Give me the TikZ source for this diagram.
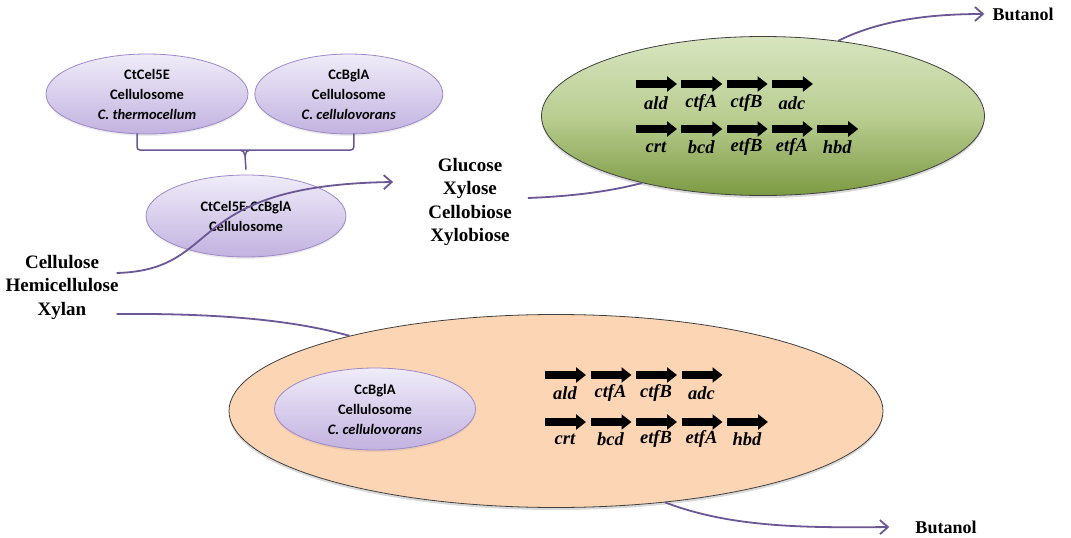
\documentclass[tikz,border=0pt]{standalone}
\usepackage{fontspec}
\setmainfont{Liberation Serif}
\newfontfamily\calfont{Carlito}
\usepackage{tikz}
\usetikzlibrary{shapes.geometric, arrows.meta, positioning, calc, shadows}

\definecolor{lilacTop}{RGB}{240,236,249}
\definecolor{lilacBot}{RGB}{194,178,224}
\definecolor{lilacEdge}{RGB}{158,136,200}
\definecolor{leafTop}{RGB}{216,229,192}
\definecolor{leafMid}{RGB}{186,206,146}
\definecolor{leafBot}{RGB}{124,154,66}
\definecolor{peach}{RGB}{252,213,181}
\definecolor{plum}{RGB}{108,86,148}

\begin{document}
\begin{tikzpicture}[x=1pt, y=-1pt,
    enzyme/.style={ellipse, draw=lilacEdge, thick, top color=lilacTop, bottom color=lilacBot, inner sep=0pt, minimum height=80pt, align=center, drop shadow={opacity=0.15, shadow xshift=0pt, shadow yshift=-2pt}, font=\calfont\bfseries\fontsize{14.5}{20}\selectfont},
    cell/.style={ellipse, draw=black!75, line width=0.8pt, inner sep=0pt, drop shadow={opacity=0.3, shadow xshift=0pt, shadow yshift=-2.5pt}},
    gene/.style={line width=7.5pt, -{Triangle[length=10pt, width=15pt]}},
    genelbl/.style={inner sep=0pt, font=\bfseries\itshape\fontsize{18.5}{20}\selectfont},
    sugar/.style={inner sep=0pt, align=center, font=\bfseries\fontsize{19}{23.5}\selectfont},
    flow/.style={draw=plum, line width=1.8pt},
    flowarr/.style={flow, -{Straight Barb[length=8pt, width=14pt]}},
    brace/.style={draw=plum, line width=1.5pt}
]
    \useasboundingbox (0,0) rectangle (1071,538);

    % cellulosomes
    \node [enzyme, minimum width=202pt] (ctcel) at (147,94) {CtCel5E\\Cellulosome\\\textit{C. thermocellum}};
    \node [enzyme, minimum width=188pt, right=6pt of ctcel] (ccbgl) {CcBglA\\Cellulosome\\\textit{C. cellulovorans}};
    \node [enzyme, minimum width=200pt, minimum height=82pt] (chimera) at (246,216) {CtCel5E-CcBglA\\Cellulosome};

    % bracket joining the two
    \coordinate (mid) at (245,150);
    \draw [brace, rounded corners=3pt] ([xshift=-10pt, yshift=1pt]ctcel.south) |- (mid) -| ([xshift=5pt, yshift=1pt]ccbgl.south);
    \draw [brace] ([xshift=-5pt]mid) to[out=0, in=90] ++(5,6) -- ([yshift=5pt]chimera.north);
    \draw [brace] ([xshift=5pt]mid) to[out=180, in=90] ++(-5,6);

    % host cells
    \node [cell, top color=leafTop, bottom color=leafBot, middle color=leafMid, minimum width=443pt, minimum height=159pt] (green) at (763,116) {};
    \node [cell, fill=peach, minimum width=654pt, minimum height=193pt] (orange) at (556,411) {};
    \node [enzyme, minimum width=201pt, minimum height=82pt] (ccbgl2) at (375,409) {CcBglA\\Cellulosome\\\textit{C. cellulovorans}};

    % gene clusters
    \foreach \g [count=\i from 0] in {ald,ctfA,ctfB,adc} {
        \draw [gene] (636+45.3*\i,84) -- ++(41,0);
        \node [genelbl] (ga-\i) at (656+45.3*\i,103) {\g};
        \draw [gene] (545+45.5*\i,375) -- ++(41,0);
        \node [genelbl] (gc-\i) at (565+45.5*\i,393) {\g};
    }
    \foreach \g [count=\i from 0] in {crt,bcd,etfB,etfA,hbd} {
        \draw [gene] (636+45.3*\i,129) -- ++(41,0);
        \node [genelbl] (gb-\i) at (656+45.3*\i,147) {\g};
        \draw [gene] (545+45.5*\i,422) -- ++(41,0);
        \node [genelbl] (gd-\i) at (565+45.5*\i,439) {\g};
    }

    % substrates and products
    \node [sugar] (polymers) at (62,287) {Cellulose\\Hemicellulose\\Xylan};
    \node [sugar] (sugars) at (470,202) {Glucose\\Xylose\\Cellobiose\\Xylobiose};
    \node [sugar, font=\bfseries\fontsize{18}{20}\selectfont] (bt1) at (1023,14) {Butanol};
    \node [sugar, font=\bfseries\fontsize{18}{20}\selectfont] (bt2) at (946,527) {Butanol};

    \draw [flowarr] ($(polymers.east)+(-2,-14)$) .. controls (225,270) and (180,185) .. ($(sugars.west)+(-35,-20)$);
    \draw [flow] ($(sugars.east)+(16,-4)$) .. controls (580,196) and (615,190) .. (green.209);
    \draw [flowarr] (green.45) .. controls (880,20) and (930,14) .. ([xshift=-8pt]bt1.west);
    \draw [flow] ($(polymers.east)+(-2,27)$) .. controls (230,313) and (300,322) .. (orange.160);
    \draw [flowarr] (orange.-40) .. controls (730,527) and (800,528) .. ([xshift=-26pt]bt2.west);
\end{tikzpicture}
\end{document}
